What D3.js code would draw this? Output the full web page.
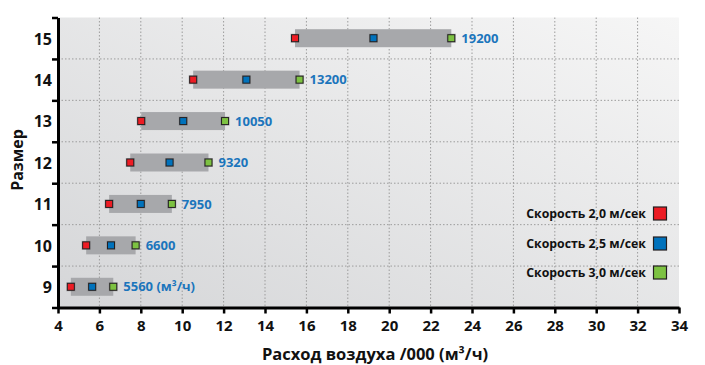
<!DOCTYPE html>
<html>
<head>
<meta charset="utf-8">
<script src="https://cdn.jsdelivr.net/npm/d3@7"></script>
<style>
  body { margin: 0; background: #fff; }
  svg text { font-family: "Open Sans", sans-serif; font-weight: 700; }
</style>
</head>
<body>
<script>
// Chart data (thousands of m3/h)
var sizes = ["9", "10", "11", "12", "13", "14", "15"];
var speed20 = [4.62, 5.36, 6.47, 7.49, 8.02, 10.53, 15.45];
var speed25 = [5.65, 6.56, 8.0, 9.39, 10.05, 13.1, 19.24];
var speed30 = [6.67, 7.75, 9.5, 11.27, 12.07, 15.67, 23.0];
var flowLabels = ["5560 (м³/ч)", "6600", "7950", "9320", "10050", "13200", "19200"];
var xTicks = [4, 6, 8, 10, 12, 14, 16, 18, 20, 22, 24, 26, 28, 30, 32, 34];
var legendLabels = ["Скорость 2,0 м/сек", "Скорость 2,5 м/сек", "Скорость 3,0 м/сек"];
var seriesColors = ["#ed1c24", "#0072bc", "#7dc242"];

var width_svg = 705;
var height_svg = 365;
var plotLeft = 58, plotRight = 679, plotTop = 17.5, plotBottom = 307.5;

var svg = d3.select("body")
            .append("svg")
            .attr("width", width_svg)
            .attr("height", height_svg);

// Background gradient of the plot
var defs = svg.append("defs");
var grad = defs.append("linearGradient")
               .attr("id", "bg")
               .attr("x1", 0).attr("y1", 1)
               .attr("x2", 1).attr("y2", 0);
grad.append("stop").attr("offset", "0%").attr("stop-color", "#d5d6d8");
grad.append("stop").attr("offset", "100%").attr("stop-color", "#f6f6f6");

// Scales
var xScale = d3.scaleLinear()
               .domain([4, 34])
               .range([plotLeft, plotRight]);
var yScale = d3.scaleBand()
               .domain(sizes.slice().reverse())
               .range([plotTop, plotBottom])
               .padding(0);
var yLin = d3.scaleLinear()
             .domain([0, sizes.length])
             .range([plotBottom, plotTop]);

svg.append("rect")
   .attr("x", plotLeft)
   .attr("y", plotTop)
   .attr("width", plotRight - plotLeft)
   .attr("height", plotBottom - plotTop)
   .attr("fill", "url(#bg)");

// Dotted grid
svg.append("g")
   .selectAll("line")
   .data(xTicks.slice(1, -1))
   .enter()
   .append("line")
   .attr("x1", function(d) { return xScale(d); })
   .attr("x2", function(d) { return xScale(d); })
   .attr("y1", plotTop)
   .attr("y2", plotBottom)
   .attr("stroke", "#9c9c9c")
   .attr("stroke-width", 1)
   .attr("stroke-dasharray", "1.5,2");

svg.append("g")
   .selectAll("line")
   .data(d3.range(1, sizes.length))
   .enter()
   .append("line")
   .attr("x1", plotLeft)
   .attr("x2", plotRight)
   .attr("y1", function(d) { return yLin(d); })
   .attr("y2", function(d) { return yLin(d); })
   .attr("stroke", "#9c9c9c")
   .attr("stroke-width", 1)
   .attr("stroke-dasharray", "1.5,2");

// Bars from the 2,0 value to the 3,0 value
var rows = sizes.map(function(s, i) {
    return {size: s, v: [speed20[i], speed25[i], speed30[i]], label: flowLabels[i]};
});
var barH = 18;

svg.append("g")
   .selectAll("rect")
   .data(rows)
   .enter()
   .append("rect")
   .attr("x", function(d) { return xScale(d.v[0]); })
   .attr("y", function(d) { return yScale(d.size) + yScale.bandwidth() / 2 - barH / 2; })
   .attr("width", function(d) { return xScale(d.v[2]) - xScale(d.v[0]); })
   .attr("height", barH)
   .attr("fill", "#a7a8ab");

// Markers
var points = [];
rows.forEach(function(r) {
    r.v.forEach(function(v, k) { points.push({size: r.size, v: v, k: k}); });
});
var mk = svg.append("g");
mk.selectAll("rect.halo")
  .data(points)
  .enter()
  .append("rect")
  .attr("class", "halo")
  .attr("x", function(d) { return xScale(d.v) - 4.5; })
  .attr("y", function(d) { return yScale(d.size) + yScale.bandwidth() / 2 - 4.5; })
  .attr("width", 9)
  .attr("height", 9)
  .attr("fill", "#6d6e71")
  .attr("opacity", 0.45);
mk.selectAll("rect.pt")
  .data(points)
  .enter()
  .append("rect")
  .attr("class", "pt")
  .attr("x", function(d) { return xScale(d.v) - 3.5; })
  .attr("y", function(d) { return yScale(d.size) + yScale.bandwidth() / 2 - 3.5; })
  .attr("width", 7)
  .attr("height", 7)
  .attr("fill", function(d) { return seriesColors[d.k]; })
  .attr("stroke", "#231f20")
  .attr("stroke-width", 1);

// Value labels
svg.append("g")
   .selectAll("text")
   .data(rows)
   .enter()
   .append("text")
   .attr("x", function(d) { return xScale(d.v[2]) + 10; })
   .attr("y", function(d) { return yScale(d.size) + yScale.bandwidth() / 2; })
   .attr("dy", "0.36em")
   .attr("font-size", "13px")
   .attr("fill", "#1b75bc")
   .text(function(d) { return d.label; });

// X axis
var xAxis = d3.axisBottom(xScale)
              .tickValues(xTicks)
              .tickSizeInner(6)
              .tickSizeOuter(0)
              .tickPadding(7)
              .tickFormat(d3.format("d"));
var gx = svg.append("g")
            .attr("transform", "translate(0," + plotBottom + ")")
            .call(xAxis);
gx.select(".domain").attr("stroke", "#000").attr("stroke-width", 3);
gx.selectAll(".tick line").attr("stroke", "#000").attr("stroke-width", 2.5);
gx.selectAll(".tick text")
  .attr("font-size", "15px")
  .attr("font-family", "'Open Sans', sans-serif")
  .attr("font-weight", 700)
  .attr("fill", "#111");

// Y axis: ticks at the band edges, labels at the centres
var yTickAxis = d3.axisLeft(yLin)
                  .tickValues(d3.range(0, sizes.length + 1))
                  .tickSizeInner(6)
                  .tickSizeOuter(0)
                  .tickFormat("");
var gy = svg.append("g")
            .attr("transform", "translate(" + plotLeft + ",0)")
            .call(yTickAxis);
gy.select(".domain").attr("stroke", "#000").attr("stroke-width", 3);
gy.selectAll(".tick line").attr("stroke", "#000").attr("stroke-width", 2.5);

var yLabelAxis = d3.axisLeft(yScale).tickSize(0).tickPadding(6);
var gyl = svg.append("g")
             .attr("transform", "translate(" + plotLeft + ",0)")
             .call(yLabelAxis);
gyl.select(".domain").remove();
gyl.selectAll(".tick text")
   .attr("font-size", "16px")
   .attr("font-family", "'Open Sans', sans-serif")
   .attr("font-weight", 700)
   .attr("fill", "#111")
   .attr("dy", "0.4em");

// Axis titles
svg.append("text")
   .attr("x", 375)
   .attr("y", 360)
   .attr("text-anchor", "middle")
   .attr("font-size", "16.5px")
   .attr("fill", "#111")
   .text("Расход воздуха /000 (м³/ч)");

svg.append("text")
   .attr("transform", "translate(23,160) rotate(-90)")
   .attr("text-anchor", "middle")
   .attr("font-size", "16px")
   .attr("fill", "#111")
   .text("Размер");

// Legend
var legY = [213.5, 243.5, 272.5];
var leg = svg.append("g");
leg.selectAll("text")
   .data(legendLabels)
   .enter()
   .append("text")
   .attr("x", 646)
   .attr("y", function(d, i) { return legY[i]; })
   .attr("dy", "0.36em")
   .attr("text-anchor", "end")
   .attr("font-size", "12.3px")
   .attr("fill", "#111")
   .text(function(d) { return d; });
leg.selectAll("rect")
   .data(legendLabels)
   .enter()
   .append("rect")
   .attr("x", 653.5)
   .attr("y", function(d, i) { return legY[i] - 6.5; })
   .attr("width", 13)
   .attr("height", 13)
   .attr("fill", function(d, i) { return seriesColors[i]; })
   .attr("stroke", "#231f20")
   .attr("stroke-width", 1.2);
</script>
</body>
</html>
